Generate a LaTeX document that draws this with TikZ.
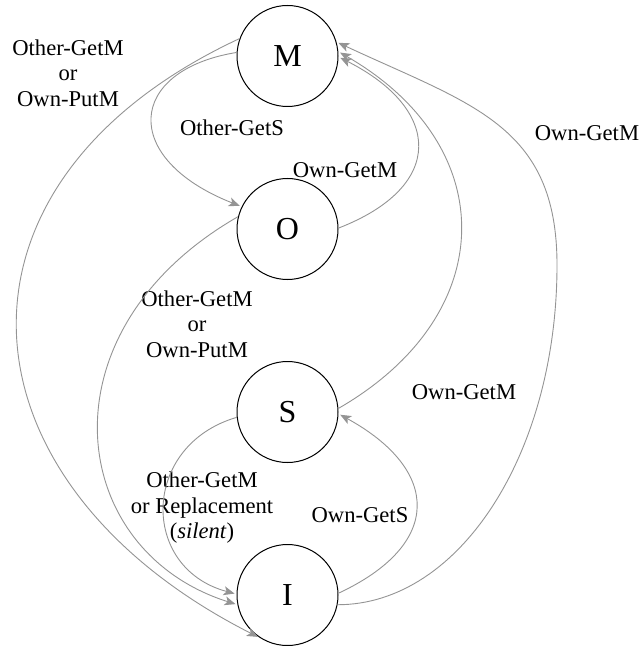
\documentclass[tikz,border=0pt]{standalone}
\usepackage{fontspec}
\setmainfont{Liberation Serif}
\usetikzlibrary{arrows.meta}
\begin{document}
\begin{tikzpicture}[x=0.5pt,y=-0.5pt,
  state/.style={circle,draw=black,line width=0.5pt,minimum size=50.5pt,inner sep=0pt,font=\fontsize{16}{18}\selectfont},
  trans/.style={draw=black!42,line width=0.45pt,-{Stealth[length=5.5pt,width=4.5pt,inset=1.4pt]},shorten >=1pt},
  lbl/.style={align=center,inner sep=0pt,font=\fontsize{11.3}{12.75}\selectfont}]
\useasboundingbox (0,0) rectangle (641,646);
\node[state] (M) at (287.5,56) {M};
\node[state] (O) at (287.5,229) {O};
\node[state] (S) at (287.5,412) {S};
\node[state] (I) at (287.5,595) {I};
\coordinate (rwp) at (557,265);
% labels
\node[lbl] (l1) at (68,73) {Other-GetM\\or\\Own-PutM};
\node[lbl] (l2) at (232,128) {Other-GetS};
\node[lbl] (l3) at (345,170) {Own-GetM};
\node[lbl] (l4) at (197,324) {Other-GetM\\or\\Own-PutM};
\node[lbl] (l5) at (464,392) {Own-GetM};
\node[lbl] (l6) at (202,508) {Other-GetM\\or Replacement\\(\textit{silent})};
\node[lbl] (l7) at (360,515) {Own-GetS};
\node[lbl] (l8) at (587,133) {Own-GetM};
% transitions
\draw[trans] (M.176) .. controls +(-110,18) and +(-122,-48) .. (O.154);
\draw[trans] (O.1) .. controls +(108,-42) and +(103,52) .. (M.-1);
\draw[trans] (O.166) .. controls +(-200,115) and +(-171,-54) .. (I.191);
\draw[trans] (S.186) .. controls +(-96,28) and +(-97,-26) .. (I.179);
\draw[trans] (M.160) .. controls +(-311,145) and +(-308,-156) .. (I.237);
\draw[trans] (S.4) .. controls +(163,-94) and +(163,94) .. (M.5);
\draw[trans] (I.2) .. controls +(105,-49) and +(102,56) .. (S.-2);
\draw[trans] (I.-11) .. controls +(122,0) and +(0,188) .. (rwp)
  .. controls +(0,-140) and +(135,63) .. (M.16);
\end{tikzpicture}
\end{document}
